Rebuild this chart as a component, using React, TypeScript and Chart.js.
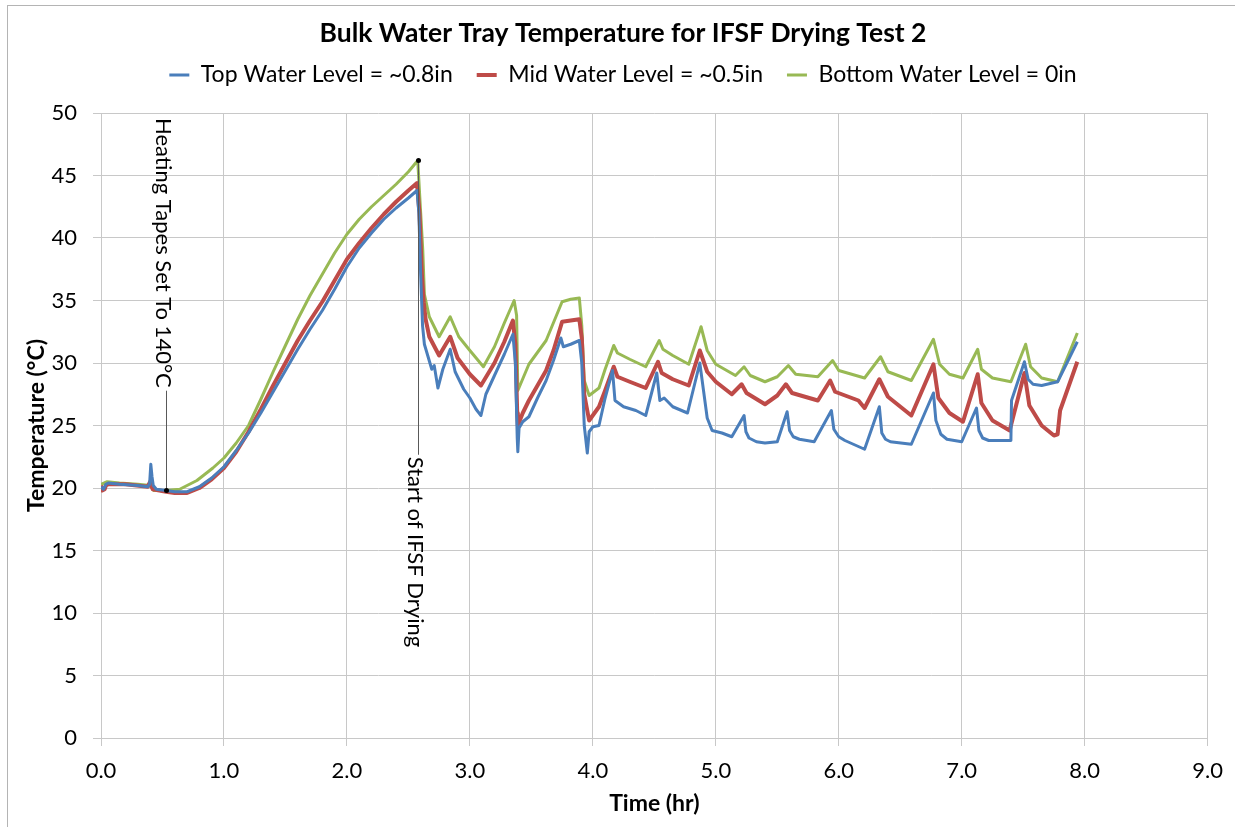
import { useEffect, useRef } from "react";
import { Chart, registerables } from "chart.js";

Chart.register(...registerables);

const FONT = "Lato, 'Open Sans', sans-serif";

const chartTitle = "Bulk Water Tray Temperature for IFSF Drying Test 2";
const xTitle = "Time (hr)";
const yTitle = "Temperature (°C)";
const seriesNames = [
  "Top Water Level = ~0.8in",
  "Mid Water Level = ~0.5in",
  "Bottom Water Level = 0in",
];
const seriesColors = ["#4a7ebb", "#be4b48", "#98b954"];

// Top thermocouple (hours, °C)
const topTime = [
  0.0, 0.02, 0.04, 0.06, 0.15, 0.3, 0.38, 0.395, 0.405, 0.415, 0.425, 0.45, 0.53, 0.6, 0.7,
  0.8, 0.9, 1.0, 1.1, 1.2, 1.3, 1.4, 1.5, 1.6, 1.7, 1.8, 1.9, 2.0, 2.1, 2.2, 2.3, 2.4, 2.5,
  2.57, 2.585, 2.6, 2.615, 2.63, 2.66, 2.69, 2.71, 2.74, 2.78, 2.84, 2.88, 2.95, 3.0, 3.05,
  3.09, 3.13, 3.2, 3.28, 3.35, 3.37, 3.385, 3.39, 3.4, 3.43, 3.48, 3.55, 3.62, 3.68, 3.74,
  3.76, 3.82, 3.89, 3.91, 3.93, 3.955, 3.97, 4.0, 4.05, 4.1, 4.16, 4.18, 4.25, 4.35, 4.43,
  4.52, 4.545, 4.58, 4.65, 4.77, 4.87, 4.9, 4.93, 4.97, 5.05, 5.13, 5.23, 5.245, 5.27, 5.33,
  5.4, 5.5, 5.58, 5.6, 5.63, 5.68, 5.8, 5.94, 5.96, 6.0, 6.05, 6.21, 6.33, 6.35, 6.38, 6.42,
  6.59, 6.77, 6.79, 6.83, 6.88, 7.0, 7.12, 7.14, 7.17, 7.22, 7.4, 7.405, 7.51, 7.54, 7.58,
  7.65, 7.78, 7.94,
];
const topTemp = [
  20.1, 19.9, 20.3, 20.4, 20.3, 20.2, 20.1, 20.3, 21.9, 20.9, 20.2, 19.9, 19.8, 19.7, 19.7,
  20.1, 20.8, 21.7, 23.0, 24.4, 26.0, 27.7, 29.4, 31.1, 32.7, 34.2, 35.9, 37.7, 39.2, 40.4,
  41.5, 42.4, 43.2, 43.8, 42.0, 37.0, 33.0, 31.5, 30.5, 29.5, 29.8, 28.0, 29.5, 31.1, 29.3,
  27.9, 27.2, 26.3, 25.8, 27.5, 29.0, 30.7, 32.3, 30.0, 24.0, 22.9, 24.8, 25.3, 25.7, 27.2,
  28.6, 30.2, 32.0, 31.3, 31.5, 31.8, 30.0, 25.0, 22.8, 24.5, 24.9, 25.0, 27.2, 29.4, 27.0,
  26.5, 26.2, 25.8, 29.2, 27.0, 27.2, 26.5, 26.0, 30.0, 27.8, 25.6, 24.6, 24.4, 24.1, 25.8,
  24.5, 24.0, 23.7, 23.6, 23.7, 26.1, 24.6, 24.1, 23.9, 23.7, 26.2, 24.7, 24.1, 23.8, 23.1,
  26.5, 24.4, 23.9, 23.7, 23.5, 27.6, 25.4, 24.3, 23.9, 23.7, 26.4, 24.6, 24.0, 23.8, 23.8,
  27.0, 30.1, 28.7, 28.3, 28.2, 28.5, 31.7,
];

// Middle thermocouple (hours, °C)
const midTime = [
  0.0, 0.01, 0.03, 0.04, 0.06, 0.2, 0.38, 0.4, 0.42, 0.53, 0.6, 0.7, 0.8, 0.9, 1.0, 1.1, 1.2,
  1.3, 1.4, 1.5, 1.6, 1.7, 1.8, 1.9, 2.0, 2.1, 2.2, 2.3, 2.4, 2.5, 2.57, 2.59, 2.61, 2.625,
  2.64, 2.67, 2.75, 2.84, 2.9, 3.0, 3.09, 3.2, 3.28, 3.35, 3.37, 3.385, 3.39, 3.43, 3.48,
  3.55, 3.62, 3.68, 3.75, 3.82, 3.89, 3.91, 3.93, 3.97, 4.05, 4.1, 4.17, 4.2, 4.3, 4.43,
  4.53, 4.56, 4.65, 4.78, 4.87, 4.93, 5.0, 5.13, 5.21, 5.25, 5.4, 5.5, 5.57, 5.62, 5.83,
  5.93, 5.97, 6.16, 6.21, 6.33, 6.4, 6.59, 6.77, 6.81, 6.9, 7.01, 7.13, 7.16, 7.25, 7.39,
  7.51, 7.55, 7.65, 7.75, 7.78, 7.8, 7.94,
];
const midTemp = [
  20.2, 19.8, 19.9, 20.2, 20.3, 20.3, 20.1, 20.5, 19.9, 19.7, 19.6, 19.6, 20.0, 20.7, 21.6,
  22.9, 24.5, 26.3, 28.2, 30.0, 31.8, 33.4, 34.9, 36.6, 38.3, 39.6, 40.8, 41.9, 42.9, 43.8,
  44.4, 42.0, 37.0, 34.8, 33.5, 32.1, 30.6, 32.1, 30.4, 29.1, 28.2, 30.0, 31.7, 33.4, 31.5,
  26.0, 25.0, 26.0, 27.0, 28.2, 29.4, 31.0, 33.3, 33.4, 33.5, 32.0, 27.5, 25.4, 26.5, 27.8,
  29.7, 28.9, 28.5, 28.0, 30.1, 29.2, 28.7, 28.2, 31.0, 29.3, 28.5, 27.5, 28.3, 27.6, 26.7,
  27.4, 28.3, 27.6, 27.0, 28.6, 27.7, 27.0, 26.4, 28.7, 27.3, 25.8, 29.9, 27.2, 26.0, 25.3,
  29.1, 26.8, 25.4, 24.6, 29.2, 26.6, 25.0, 24.2, 24.3, 26.2, 30.1,
];

// Bottom thermocouple (hours, °C)
const bottomTime = [
  0.0, 0.05, 0.15, 0.3, 0.4, 0.43, 0.53, 0.64, 0.78, 0.91, 1.0, 1.1, 1.2, 1.3, 1.4, 1.5, 1.6,
  1.7, 1.8, 1.9, 2.0, 2.1, 2.2, 2.3, 2.4, 2.5, 2.576, 2.6, 2.617, 2.63, 2.67, 2.75, 2.84,
  2.91, 3.0, 3.11, 3.2, 3.28, 3.36, 3.38, 3.39, 3.48, 3.62, 3.75, 3.82, 3.89, 3.91, 3.93,
  3.97, 4.05, 4.1, 4.17, 4.2, 4.3, 4.43, 4.54, 4.57, 4.65, 4.78, 4.88, 4.93, 5.0, 5.16, 5.23,
  5.28, 5.4, 5.5, 5.59, 5.65, 5.83, 5.95, 6.0, 6.21, 6.34, 6.4, 6.59, 6.77, 6.82, 6.9, 7.01,
  7.13, 7.16, 7.25, 7.4, 7.52, 7.56, 7.65, 7.78, 7.94,
];
const bottomTemp = [
  20.3, 20.5, 20.4, 20.3, 20.2, 19.8, 19.8, 19.9, 20.6, 21.6, 22.4, 23.6, 25.0, 27.1, 29.3,
  31.4, 33.5, 35.4, 37.1, 38.8, 40.3, 41.5, 42.5, 43.4, 44.3, 45.3, 46.2, 42.0, 39.0, 35.5,
  33.7, 32.1, 33.7, 32.1, 31.0, 29.7, 31.3, 33.2, 35.0, 33.8, 27.8, 29.9, 31.8, 34.9, 35.1,
  35.2, 33.0, 28.6, 27.4, 28.0, 29.5, 31.4, 30.8, 30.3, 29.7, 31.8, 31.1, 30.6, 29.9, 32.9,
  31.0, 29.9, 29.0, 29.7, 29.0, 28.5, 28.9, 29.8, 29.1, 28.9, 30.2, 29.4, 28.8, 30.5, 29.3,
  28.6, 31.9, 29.9, 29.1, 28.8, 31.1, 29.5, 28.8, 28.5, 31.5, 29.7, 28.8, 28.5, 32.4,
];

// Callouts: marker (time, temp), where the rotated label starts (temp), label text
const noteTime = [0.53, 2.58];
const noteTemp = [19.8, 46.2];
const noteLabelTemp = [49.6, 22.5];
const noteText = ["Heating Tapes Set To 140°C", "Start of IFSF Drying"];

const toPoints = (t: number[], v: number[]) => t.map((x, i) => ({ x, y: v[i] }));

const calloutPlugin = {
  id: "callouts",
  afterDatasetsDraw(chart: any) {
    const { ctx, scales } = chart;
    const xs = scales.x;
    const ys = scales.y;
    ctx.save();
    ctx.font = `22px ${FONT}`;
    noteText.forEach((text, i) => {
      const px = Math.round(xs.getPixelForValue(noteTime[i]));
      const py = ys.getPixelForValue(noteTemp[i]);
      const top = ys.getPixelForValue(noteLabelTemp[i]);
      const bottom = top + ctx.measureText(text).width;
      ctx.strokeStyle = "#595959";
      ctx.lineWidth = 1;
      ctx.beginPath();
      if (py > bottom) {
        ctx.moveTo(px + 0.5, bottom + 3);
        ctx.lineTo(px + 0.5, py);
      } else {
        ctx.moveTo(px + 0.5, py);
        ctx.lineTo(px + 0.5, top - 2);
      }
      ctx.stroke();
      ctx.save();
      ctx.translate(px - 3, top);
      ctx.rotate(Math.PI / 2);
      ctx.textAlign = "left";
      ctx.textBaseline = "middle";
      ctx.fillStyle = "#000";
      ctx.fillText(text, 0, 0);
      ctx.restore();
      ctx.beginPath();
      ctx.arc(px + 0.5, py, 2.5, 0, Math.PI * 2);
      ctx.fillStyle = "#000";
      ctx.fill();
    });
    ctx.restore();
  },
};

// Extra room between the legend row and the plot area
const legendGapPlugin = {
  id: "legendGap",
  beforeLayout(chart: any) {
    const legend = chart.legend;
    if (legend && !legend.__gap) {
      const fit = legend.fit.bind(legend);
      legend.fit = () => {
        fit();
        legend.height += 16.5;
      };
      legend.__gap = true;
    }
  },
};

export default function App() {
  const canvasRef = useRef<HTMLCanvasElement>(null);

  useEffect(() => {
    const gridColor = "#c8c8c8";
    const chart = new Chart(canvasRef.current as HTMLCanvasElement, {
      type: "line",
      data: {
        datasets: [
          { label: seriesNames[0], data: toPoints(topTime, topTemp), borderColor: seriesColors[0], backgroundColor: seriesColors[0], borderWidth: 3 },
          { label: seriesNames[1], data: toPoints(midTime, midTemp), borderColor: seriesColors[1], backgroundColor: seriesColors[1], borderWidth: 4 },
          { label: seriesNames[2], data: toPoints(bottomTime, bottomTemp), borderColor: seriesColors[2], backgroundColor: seriesColors[2], borderWidth: 3 },
        ],
      },
      options: {
        responsive: false,
        animation: false,
        devicePixelRatio: 1,
        elements: { point: { radius: 0 }, line: { tension: 0, borderJoinStyle: "round" } },
        layout: { padding: { left: 37, right: 26, top: 0, bottom: 8 } },
        plugins: {
          title: {
            display: true,
            text: chartTitle,
            color: "#000",
            font: { family: FONT, size: 26.5, weight: "bold" },
            padding: { top: 17.1, bottom: -9.4 },
          },
          legend: {
            display: true,
            labels: {
              usePointStyle: true,
              pointStyle: "line",
              pointStyleWidth: 20,
              color: "#000",
              font: { family: FONT, size: 23 },
              padding: 24,
            },
          },
          tooltip: { enabled: false },
        },
        scales: {
          x: {
            type: "linear",
            min: 0,
            max: 9,
            ticks: {
              stepSize: 1,
              maxRotation: 0,
              padding: 12,
              color: "#000",
              font: { family: FONT, size: 22 },
              callback: (v: any) => Number(v).toFixed(1),
            },
            grid: { color: gridColor, tickLength: 8 },
            border: { color: gridColor },
            title: {
              display: true,
              text: xTitle,
              color: "#000",
              font: { family: FONT, size: 23, weight: "bold" },
              padding: { top: 0, bottom: 2 },
            },
            afterFit: (s: any) => {
              s.height = 81;
            },
          },
          y: {
            min: 0,
            max: 50,
            ticks: {
              stepSize: 5,
              padding: 16,
              color: "#000",
              font: { family: FONT, size: 22 },
            },
            grid: { color: gridColor, tickLength: 8 },
            border: { color: gridColor },
            title: {
              display: true,
              text: yTitle,
              color: "#000",
              font: { family: FONT, size: 23, weight: "bold" },
              padding: { top: -14, bottom: 0 },
            },
            afterFit: (s: any) => {
              s.width = 64;
            },
          },
        },
      },
      plugins: [calloutPlugin, legendGapPlugin],
    } as any);
    return () => chart.destroy();
  }, []);

  return (
    <div style={{ position: "absolute", left: 0, top: 0, width: 1235, height: 827, background: "#fff", overflow: "hidden" }}>
      <div style={{ position: "absolute", left: 7, top: 5, width: 1300, height: 900, borderLeft: "1px solid #b4b4b4", borderTop: "1px solid #b4b4b4" }} />
      <canvas ref={canvasRef} width={1235} height={827} style={{ position: "absolute", left: 0, top: 0 }} />
    </div>
  );
}
